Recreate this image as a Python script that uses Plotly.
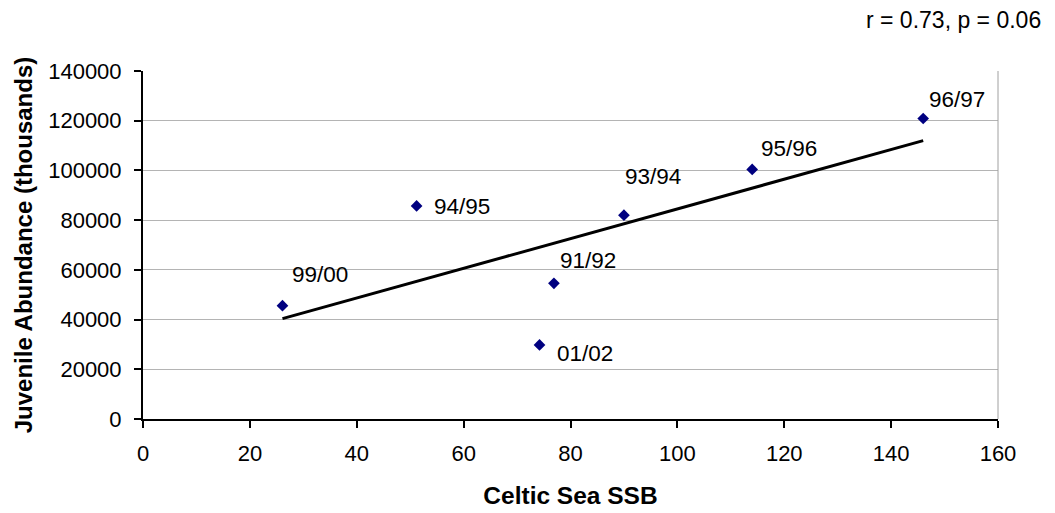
import numpy as np
import plotly.graph_objects as go

# Celtic Sea spawning stock biomass vs juvenile abundance, by season
seasons = ["99/00", "94/95", "91/92", "01/02", "93/94", "95/96", "96/97"]
ssb = [26.1, 51.2, 76.9, 74.2, 90.0, 114.0, 146.0]
juvenile = [45600, 85700, 54600, 29800, 82000, 100400, 120900]

# label offsets (pixels, right / down) relative to each marker
label_dx = [8, 15, 4, 15, -1, 7, 4]
label_dy = [-31, 1, -23, 9, -39, -21, -19]

x_ticks = [0, 20, 40, 60, 80, 100, 120, 140, 160]
y_ticks = [0, 20000, 40000, 60000, 80000, 100000, 120000, 140000]

FONT = "Liberation Sans, Arial, sans-serif"

# least-squares trend line
slope, intercept = np.polyfit(ssb, juvenile, 1)
trend_x = np.array([min(ssb), max(ssb)])
trend_y = slope * trend_x + intercept

fig = go.Figure()
fig.add_trace(go.Scatter(
    x=trend_x, y=trend_y, mode="lines",
    line=dict(color="black", width=3), hoverinfo="skip", showlegend=False,
))
fig.add_trace(go.Scatter(
    x=ssb, y=juvenile, mode="markers",
    marker=dict(symbol="diamond", size=9, color="#000080"),
    showlegend=False,
))

for s, xv, yv, dx, dy in zip(seasons, ssb, juvenile, label_dx, label_dy):
    fig.add_annotation(
        x=xv, y=yv, xref="x", yref="y", text=s, showarrow=False,
        xanchor="left", yanchor="middle", xshift=dx, yshift=-dy,
        font=dict(family=FONT, size=22.5, color="black"),
    )

# correlation statistic in the top-right corner
fig.add_annotation(
    x=1.0526, y=1.1455, xref="paper", yref="paper", text="r = 0.73, p = 0.06",
    showarrow=False, xanchor="right", yanchor="middle",
    font=dict(family=FONT, size=23, color="black"),
)

# right-hand border of the plot area
fig.add_shape(type="line", xref="paper", yref="paper", x0=1, x1=1, y0=0, y1=1,
              line=dict(color="#a0a0a0", width=1))

fig.update_layout(
    width=1055, height=513,
    margin=dict(l=143, r=57, t=71, b=94),
    paper_bgcolor="white", plot_bgcolor="white",
    font=dict(family=FONT, size=22, color="black"),
)

fig.update_xaxes(
    range=[0, 160], tickvals=x_ticks, showgrid=False, zeroline=False,
    showline=True, linecolor="black", linewidth=2, automargin=False,
    ticks="outside", ticklen=7, tickwidth=2, tickcolor="black",
    tickfont=dict(family=FONT, size=22), ticklabelstandoff=7,
    title=dict(text="<b>Celtic Sea SSB</b>", font=dict(family=FONT, size=24.5), standoff=21),
)
fig.update_yaxes(
    range=[0, 140000], tickvals=y_ticks, tickformat="d",
    showgrid=True, gridcolor="#b4b4b4", gridwidth=1, zeroline=False,
    showline=True, linecolor="black", linewidth=2, automargin=False,
    ticks="outside", ticklen=7, tickwidth=2, tickcolor="black",
    tickfont=dict(family=FONT, size=22), ticklabelstandoff=8,
    title=dict(text="<b>Juvenile Abundance (thousands)</b>", font=dict(family=FONT, size=24), standoff=9),
)

fig.write_html("out.html")
